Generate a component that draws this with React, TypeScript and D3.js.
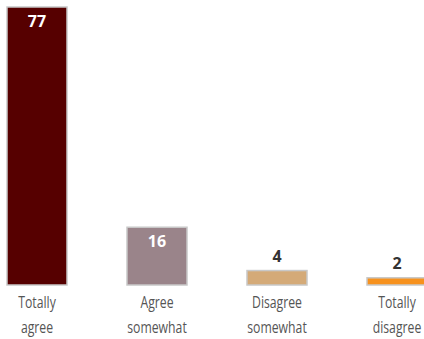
import React from "react";
import * as d3 from "d3";

const categories: string[][] = [["Totally", "agree"], ["Agree", "somewhat"], ["Disagree", "somewhat"], ["Totally", "disagree"]];
const values: number[] = [77, 16, 4, 2];
const colors: string[] = ["#560000", "#9a848a", "#d4aa78", "#f7921e"];
const insideLabel: boolean[] = [true, true, false, false];

export default function App() {
  const W = 424, H = 339;
  const baseY = 285;
  const y = d3.scaleLinear().domain([0, 77]).range([baseY, 7]);
  const bw = 60;
  return (
    <svg width={W} height={H} style={{ position: "absolute", left: 0, top: 0 }}>
      {values.map((v, i) => {
        const cx = 37 + i * 120;
        const top = y(v);
        return (
          <g key={i}>
            <rect x={cx - bw / 2} y={top} width={bw} height={baseY - top} fill={colors[i]} stroke="#c8c8c8" strokeWidth={1.5} />
            <text x={cx} y={insideLabel[i] ? top + 20 : top - 9} textAnchor="middle" fontFamily="'Open Sans', sans-serif" fontWeight="bold" fontSize={16} fill={insideLabel[i] ? "#fff" : "#333"}>{v}</text>
            {categories[i].map((t, j) => (
              <text key={j} transform={`translate(${cx},${308 + j * 25}) scale(0.72,1)`} textAnchor="middle" fontFamily="'Open Sans', sans-serif" fontSize={17} fill="#555">{t}</text>
            ))}
          </g>
        );
      })}
    </svg>
  );
}
